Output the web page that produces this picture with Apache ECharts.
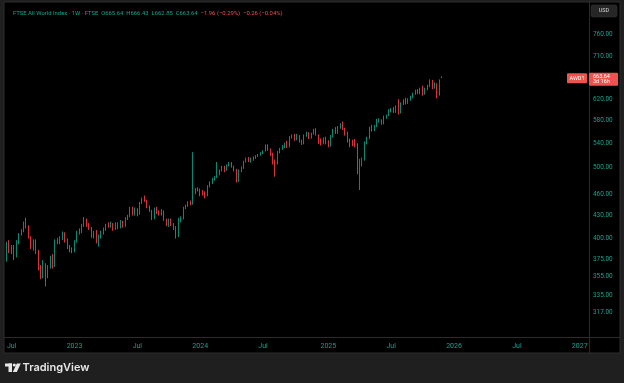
<!DOCTYPE html>
<html><head><meta charset="utf-8">
<script src="https://cdn.jsdelivr.net/npm/echarts@6/dist/echarts.min.js"></script>
<style>html,body{margin:0;padding:0;background:#1f1f1f;}#c{width:624px;height:383px;}</style>
</head><body><div id="c"></div>
<script>
// Weekly candles, first week starting Monday 2022-06-20
const firstWeek = [2022, 5, 20];
const opens = [
376,394,384,390,379,395,406,410,423,416,
401,388,397,383,365,354,369,355,366,377,
368,396,398,401,406,397,390,387,385,397,
408,410,417,424,418,414,403,409,397,403,
409,412,420,416,419,413,419,414,422,416,
426,429,440,432,439,432,448,455,451,442,
437,427,440,435,432,436,425,417,424,418,
414,403,424,427,441,444,449,446,462,468,
467,464,462,458,472,477,482,486,491,496,
501,497,504,507,502,496,480,495,500,510,
515,510,514,516,519,521,524,527,536,529,
522,509,506,525,531,534,542,535,550,554,
547,552,544,540,553,557,550,557,563,553,
545,540,549,541,536,552,566,559,567,573,
565,557,544,543,541,536,492,505,513,540,
549,569,563,570,579,580,575,586,590,598,
602,596,609,595,611,620,613,619,624,631,
638,632,645,631,640,647,656,644,649,629,
665.64];
const closes = [
393,384,391,378,396,406,411,421,416,401,
389,397,383,364,355,370,355,366,377,368,
397,399,402,407,397,389,385,384,397,409,
411,418,425,417,414,403,408,397,403,409,
413,418,416,420,412,419,414,422,416,427,
430,441,432,439,431,448,454,451,442,437,
426,440,434,432,437,425,418,424,418,413,
403,425,427,441,444,448,446,462,467,466,
460,461,457,472,478,483,486,492,496,501,
497,504,507,502,496,480,496,500,510,515,
511,514,516,519,521,524,527,536,529,521,
507,505,525,531,536,539,534,551,553,546,
554,543,539,554,558,549,557,563,555,542,
540,549,540,536,552,563,559,568,573,565,
556,543,536,538,535,494,505,513,541,549,
567,563,570,580,581,574,587,589,599,601,
596,606,594,611,618,613,620,625,631,637,
632,641,630,641,647,657,644,650,628,658,
663.64];
const highs = [
396,398,392,392,398,407,412,422,427,417,
403,399,399,386,368,374,370,368,379,381,
399,401,403,409,408,400,392,389,398,410,
413,419,428,426,420,415,410,411,405,410,
414,419,421,422,420,421,421,424,423,428,
431,442,442,441,440,449,455,458,452,444,
438,441,442,437,439,437,426,426,426,420,
416,427,429,442,445,450,451,525,469,470,
468,466,464,473,479,484,487,509,497,503,
503,505,509,509,503,498,497,502,511,516,
517,516,518,520,522,525,528,538,538,531,
524,513,527,532,537,541,544,552,555,556,
556,554,546,555,560,559,558,565,566,555,
548,550,551,545,554,565,568,570,575,578,
567,560,548,546,547,540,514,516,543,551,
569,572,572,583,584,582,589,591,601,603,
605,608,620,614,620,623,622,627,633,639,
640,643,647,643,649,660,659,654,652,660,
666.43];
const lows = [
372,382,381,374,377,393,404,408,413,400,
387,385,381,362,352,353,344,353,364,364,
366,393,393,398,395,387,383,382,383,395,
405,407,415,415,411,401,400,394,390,400,
405,410,414,414,410,411,412,413,414,415,
424,428,430,430,429,431,446,449,440,435,
424,425,432,430,430,423,416,415,416,411,
400,402,421,425,439,442,444,445,460,464,
457,458,454,457,470,475,480,484,488,494,
493,495,502,500,494,477,478,493,498,508,
509,508,511,514,517,519,522,526,527,519,
505,486,505,523,529,532,532,533,548,544,
545,541,537,538,551,547,548,555,553,539,
536,538,538,533,534,550,556,556,565,563,
553,541,533,535,533,490,466,502,511,538,
547,560,561,568,576,572,573,583,588,595,
594,594,591,593,609,610,611,617,622,629,
630,630,627,629,638,644,640,641,622,627,
662.85];
const yTicks = [317, 335, 355, 375, 400, 430, 460, 500, 540, 580, 620, 710, 760];
const xTickDates = ['2022-07-04','2023-01-02','2023-07-03','2024-01-01','2024-07-01','2025-01-06','2025-07-07','2026-01-05','2026-07-06','2027-01-04'];
const xTickLabels = ['Jul','2023','Jul','2024','Jul','2025','Jul','2026','Jul','2027'];
const header = {name: 'FTSE All World Index · 1W · FTSE', o: '665.64', h: '666.43', l: '662.85', c: '663.64', chg: '−1.96 (−0.29%)', chg2: '−0.26 (−0.04%)'};
const lastPrice = 663.64;
const symbol = 'AWD1';
const countdown = '3d 16h';

const TEAL = '#18a08c', RED = '#ef4f4f', UP = '#089981', DOWN = '#f23645';
const pad = n => (n < 10 ? '0' : '') + n;
const dates = opens.map((_, i) => {
  const d = new Date(firstWeek[0], firstWeek[1], firstWeek[2] + 7 * i);
  return d.getFullYear() + '-' + pad(d.getMonth() + 1) + '-' + pad(d.getDate());
});
const candleData = dates.map((d, i) => [d, opens[i], closes[i], lows[i], highs[i]]);

const yTickLines = yTicks.map(v => ({
  yAxis: v,
  label: {show: true, position: 'end', distance: 4, color: TEAL, fontSize: 6.4, formatter: Number(v).toFixed(2)}
}));
const xTickLines = xTickDates.map((d, i) => ({
  xAxis: d,
  label: {show: true, position: 'start', distance: 6, color: TEAL, fontSize: 7, formatter: xTickLabels[i]}
}));

const chart = echarts.init(document.getElementById('c'), null, {renderer: 'canvas'});
const option = {
  animation: false,
  backgroundColor: '#1f1f1f',
  textStyle: {fontFamily: 'Roboto, "DejaVu Sans", sans-serif'},
  title: {
    left: 8, top: 6,
    text: '{t|' + header.name + '}  {t|O' + header.o + '}  {t|H' + header.h + '}  {t|L' + header.l + '}  {t|C' + header.c + '}  {r|' + header.chg + '}  {r|' + header.chg2 + '}',
    textStyle: {fontSize: 5.9, fontWeight: 'normal', rich: {t: {color: TEAL, fontSize: 5.9}, r: {color: RED, fontSize: 5.9}}}
  },
  grid: {left: 5, right: 35, top: 3, bottom: 46, containLabel: false},
  xAxis: {
    type: 'time', min: '2022-06-14 17:00:00', max: '2027-01-30 21:00:00',
    axisLine: {show: false}, axisTick: {show: false}, splitLine: {show: false}, axisLabel: {show: false}
  },
  yAxis: {
    type: 'log', logBase: 10, min: 293.5, max: 839.3, position: 'right',
    axisLine: {show: false}, axisTick: {show: false}, splitLine: {show: false}, axisLabel: {show: false}
  },
  series: [{
    name: symbol, type: 'candlestick', data: candleData, barWidth: 1.1,
    itemStyle: {color: UP, color0: DOWN, borderColor: UP, borderColor0: DOWN, borderWidth: 0.9},
    markLine: {
      silent: true, animation: false, symbol: ['none', 'none'],
      lineStyle: {color: 'rgba(0,0,0,0)', width: 0},
      data: yTickLines.concat(xTickLines)
    }
  }],
  graphic: [
    {type: 'rect', z: -10, shape: {x: 4, y: 2, width: 616, height: 351}, style: {fill: '#000', stroke: '#2c2c2c', lineWidth: 1}},
    {type: 'line', z: -9, shape: {x1: 589.5, y1: 2, x2: 589.5, y2: 353}, style: {stroke: '#2b2b2b', lineWidth: 1}},
    {type: 'line', z: -9, shape: {x1: 4, y1: 337.5, x2: 620, y2: 337.5}, style: {stroke: '#2b2b2b', lineWidth: 1}},
    {type: 'rect', z: 10, shape: {x: 591, y: 5, width: 26, height: 12, r: 2}, style: {fill: '#262626', stroke: '#3a3a3a', lineWidth: 0.5}},
    {type: 'text', z: 11, x: 604, y: 11, style: {text: 'USD', fill: '#d8d8d8', fontSize: 5.5, align: 'center', verticalAlign: 'middle', fontFamily: 'Roboto'}},
    {type: 'rect', z: 10, shape: {x: 5, y: 363.5, width: 7, height: 3}, style: {fill: '#e6e6e6'}},
    {type: 'rect', z: 10, shape: {x: 8.5, y: 363.5, width: 3.5, height: 8.5}, style: {fill: '#e6e6e6'}},
    {type: 'circle', z: 10, shape: {cx: 14.3, cy: 365, r: 1.6}, style: {fill: '#e6e6e6'}},
    {type: 'polygon', z: 10, shape: {points: [[16.8, 363.5], [20.8, 363.5], [16.8, 372], [12.8, 372]]}, style: {fill: '#e6e6e6'}},
    {type: 'text', z: 10, x: 22.5, y: 368, style: {text: 'TradingView', fill: '#e6e6e6', fontSize: 11, fontWeight: 600, fontFamily: 'Inter, Roboto, sans-serif', verticalAlign: 'middle'}}
  ]
};
chart.setOption(option);
const yPx = chart.convertToPixel({yAxisIndex: 0}, lastPrice);
chart.setOption({graphic: option.graphic.concat([
  {type: 'rect', z: 12, shape: {x: 567, y: yPx - 4.5, width: 20, height: 10, r: 1}, style: {fill: '#ef5350'}},
  {type: 'text', z: 13, x: 577, y: yPx + 0.5, style: {text: symbol, fill: '#fff', fontSize: 5.5, align: 'center', verticalAlign: 'middle', fontFamily: 'Roboto'}},
  {type: 'rect', z: 12, shape: {x: 589, y: yPx - 5, width: 29, height: 13, r: 1}, style: {fill: '#ef5350'}},
  {type: 'text', z: 13, x: 593, y: yPx - 1.3, style: {text: lastPrice.toFixed(2), fill: '#fff', fontSize: 5.5, verticalAlign: 'middle', fontFamily: 'Roboto'}},
  {type: 'text', z: 13, x: 593, y: yPx + 4, style: {text: countdown, fill: '#fff', fontSize: 5.5, verticalAlign: 'middle', fontFamily: 'Roboto'}}
])}, {replaceMerge: ['graphic']});
</script>
</body></html>
